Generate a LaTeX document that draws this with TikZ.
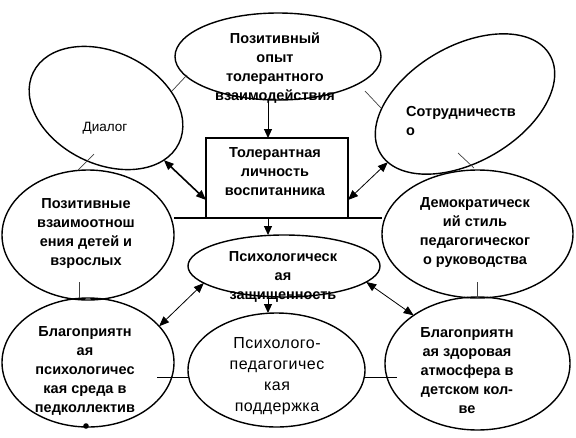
\documentclass[tikz,border=0pt]{standalone}
\usepackage{fontspec}
\setmainfont{Liberation Sans}
\newfontfamily\widefont[LetterSpace=3]{Liberation Sans}
\usetikzlibrary{shapes.geometric,arrows.meta}

\tikzset{
  oval/.style={draw,ellipse,line width=1.4pt,inner sep=0pt,outer sep=0pt},
  txt/.style={align=center,inner sep=0pt,font=\bfseries\fontsize{14.5}{19}\selectfont},
  both/.style={{Triangle[length=10pt,width=8pt]}-{Triangle[length=10pt,width=8pt]},line width=0.8pt},
  down/.style={-{Triangle[length=9pt,width=8pt]},line width=1pt},
  stub/.style={line width=0.7pt,black!75}
}

\begin{document}
\begin{tikzpicture}[x=1pt,y=-1pt]
\useasboundingbox (0,0) rectangle (576,437);

% ovals and box
\node[oval,minimum width=206pt,minimum height=87pt] (opyt) at (278,56.5) {};
\node[oval,minimum width=162pt,minimum height=112pt,rotate=-26] (dialog) at (106,108) {};
\node[oval,minimum width=196pt,minimum height=116pt,rotate=30] (sotr) at (465,104) {};
\node[oval,minimum width=172pt,minimum height=130pt] (vzaim) at (88,235) {};
\node[oval,minimum width=191pt,minimum height=128pt] (demo) at (477.5,234) {};
\node[oval,minimum width=192pt,minimum height=62pt] (zashch) at (284,266) {};
\node[oval,minimum width=172pt,minimum height=129pt] (sreda) at (88,362.5) {};
\node[oval,minimum width=177pt,minimum height=114pt] (podd) at (276.5,370) {};
\node[oval,minimum width=185pt,minimum height=133pt] (atmo) at (477.5,363.5) {};
\node[draw,line width=1.3pt,minimum width=142pt,minimum height=80pt,inner sep=0pt,outer sep=0pt] (lichn) at (277,178) {};

% texts
\node[txt] (opyt-t) at (275,68.5) {Позитивный\\опыт\\толерантного\\взаимодействия};
\node[txt,font=\fontsize{13.5}{19}\selectfont] (dialog-t) at (105,128) {Диалог};
\node[txt,align=left,anchor=west] (sotr-t) at (406,121.5) {Сотрудничеств\\о};
\node[txt] (lichn-t) at (275,172) {Толерантная\\личность\\воспитанника};
\node[txt] (vzaim-t) at (86,233.5) {Позитивные\\взаимоотнош\\ения детей и\\взрослых};
\node[txt] (demo-t) at (475,232.5) {Демократическ\\ий стиль\\педагогическог\\о руководства};
\node[txt] (zashch-t) at (283,276.5) {Психологическ\\ая\\защищенность};
\node[txt] (sreda-t) at (85,371) {Благоприятн\\ая\\психологичес\\кая среда в\\педколлектив};
\node[txt,font=\widefont\fontsize{16}{21}\selectfont] (podd-t) at (277,376.5) {Психолого-\\педагогичес\\кая\\поддержка};
\node[txt] (atmo-t) at (467,371) {Благоприятн\\ая здоровая\\атмосфера в\\детском кол-\\ве};

% connectors
\coordinate (ax) at (268,0);
\draw[line width=1.1pt] (lichn.south west -| vzaim.east) -- (lichn.south east -| demo.west);
\draw[down] (opyt.south -| ax) -- (lichn.north -| ax);
\draw[down] (lichn.south -| ax) -- (zashch.north -| ax);
\draw[down] (zashch.south -| ax) -- (podd.north -| ax);
\draw[both,line width=1.6pt] (dialog.-16) -- ([yshift=18pt]lichn.south west);
\draw[both] (sotr.187) -- ([yshift=18pt]lichn.south east);
\draw[both] (zashch.192) -- (sreda.27.5);
\draw[both] (zashch.-11.6) -- (atmo.143);

% stray strokes
\draw[stub] (172,91) -- (187,75);
\draw[stub] (78,170) -- (94,154);
\draw[stub] (365,91) -- (381,108);
\draw[stub] (458,153) -- (474,168);
\draw[stub] (79,282) -- (79,298);
\draw[stub] (477,282) -- (477,298);
\draw[line width=0.9pt] (157,377) -- (podd.west |- 0,377);
\draw[line width=0.9pt] (podd.east |- 0,377) -- (397,377);
\fill (86,426) circle (2.8pt);
\end{tikzpicture}
\end{document}
